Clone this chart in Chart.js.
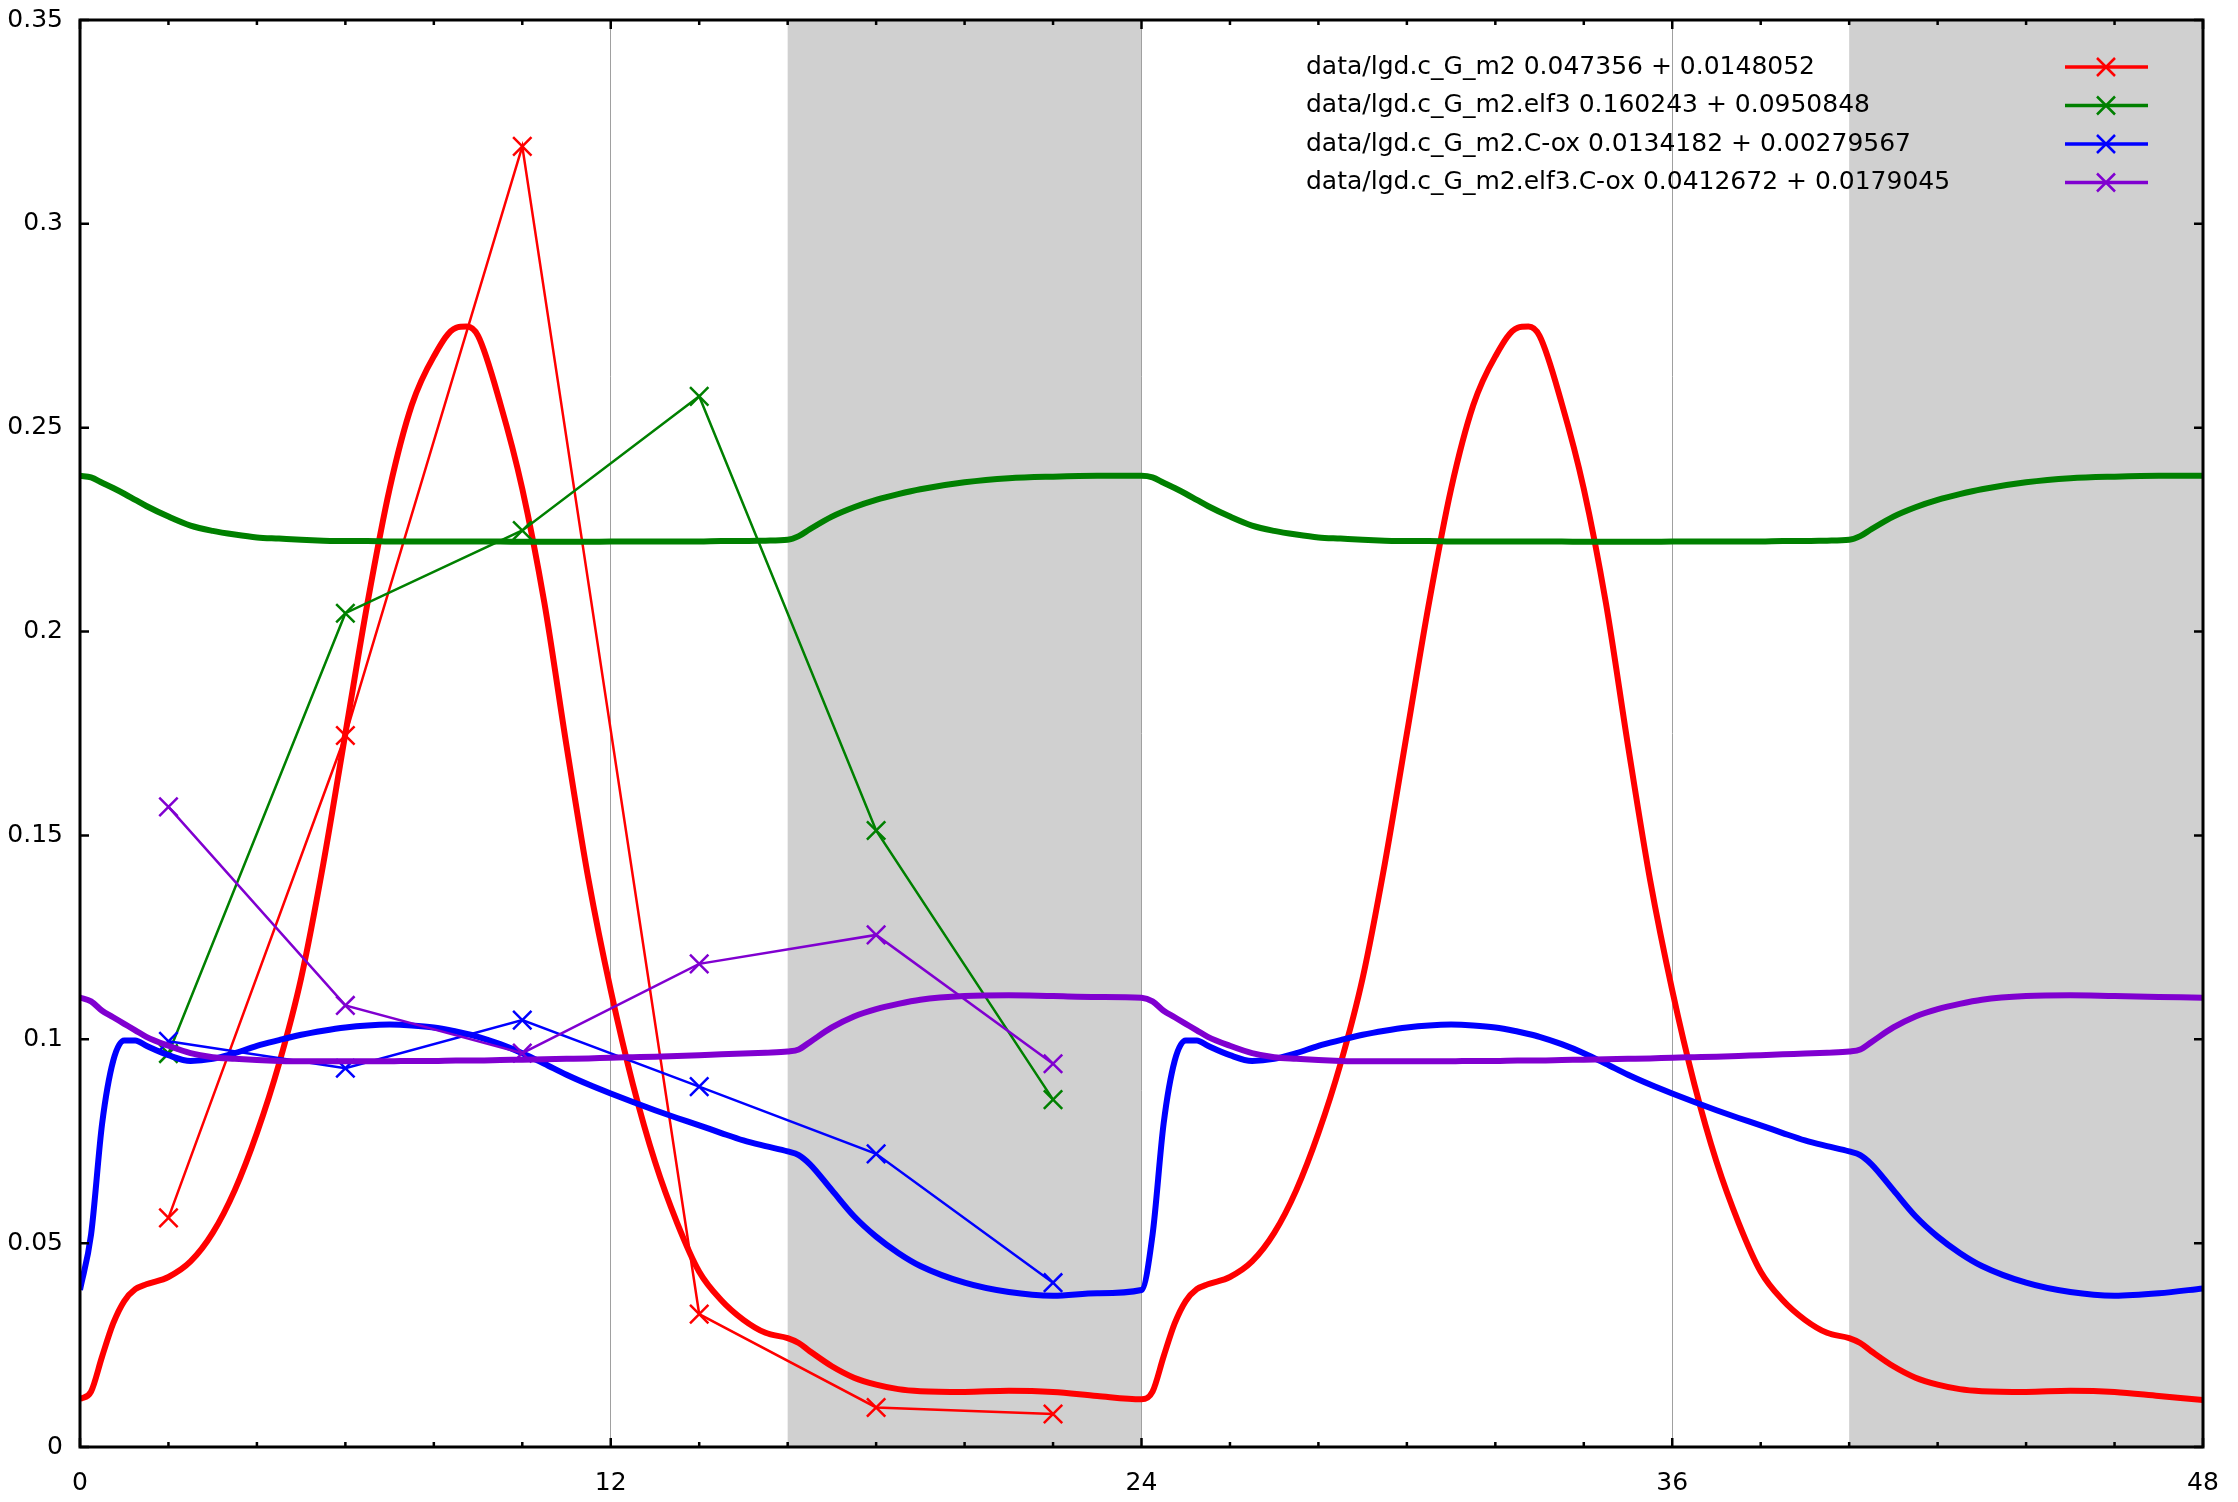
<!DOCTYPE html>
<html>
<head>
<meta charset="utf-8">
<title>lgd.c_G_m2</title>
<script src="https://cdn.jsdelivr.net/npm/chart.js@4/dist/chart.umd.min.js"></script>
<style>
  html, body { margin: 0; padding: 0; background: #fff; }
  canvas { display: block; }
</style>
</head>
<body>
<canvas id="plot" width="2238" height="1502"></canvas>
<script>
// sampled hours for the model curves (two days)
const modelHours = [
  0, 0.25, 0.5, 0.75, 1, 1.25, 1.5, 2, 2.5, 3, 3.5, 4, 4.5, 5, 5.5, 6, 6.5, 7, 7.5, 8, 8.5, 8.75, 9, 9.5,
  10, 10.5, 11, 11.5, 12, 12.5, 13, 13.5, 14, 14.5, 15, 15.5, 16, 16.25, 16.5, 17, 17.5, 18, 18.5, 19, 20, 21, 22, 23,
  24, 24.25, 24.5, 24.75, 25, 25.25, 25.5, 26, 26.5, 27, 27.5, 28, 28.5, 29, 29.5, 30, 30.5, 31, 31.5, 32, 32.5, 32.75, 33, 33.5,
  34, 34.5, 35, 35.5, 36, 36.5, 37, 37.5, 38, 38.5, 39, 39.5, 40, 40.25, 40.5, 41, 41.5, 42, 42.5, 43, 44, 45, 46, 47,
  48
];

const redModel = [
  0.0117, 0.0136, 0.0222, 0.0303, 0.0358, 0.0387, 0.0399, 0.0417, 0.0455, 0.0525, 0.063, 0.077, 0.094, 0.115, 0.143, 0.175, 0.207, 0.235, 0.2555, 0.2675, 0.2745, 0.2748, 0.2725, 0.256,
  0.235, 0.207, 0.172, 0.139, 0.112, 0.089, 0.070, 0.055, 0.0430, 0.0360, 0.0312, 0.028, 0.0267, 0.0255, 0.0235, 0.0198, 0.017, 0.0153, 0.0142, 0.0137, 0.0135, 0.0138, 0.0135, 0.0125,
  0.0117, 0.0136, 0.0222, 0.0303, 0.0358, 0.0387, 0.0399, 0.0417, 0.0455, 0.0525, 0.063, 0.077, 0.094, 0.115, 0.143, 0.175, 0.207, 0.235, 0.2555, 0.2675, 0.2745, 0.2748, 0.2725, 0.256,
  0.235, 0.207, 0.172, 0.139, 0.112, 0.089, 0.070, 0.055, 0.0430, 0.0360, 0.0312, 0.028, 0.0267, 0.0255, 0.0235, 0.0198, 0.017, 0.0153, 0.0142, 0.0137, 0.0135, 0.0138, 0.0135, 0.0125,
  0.0115
];

const greenModel = [
  0.2382, 0.2378, 0.2365, 0.2352, 0.2338, 0.2323, 0.2308, 0.2282, 0.226, 0.2247, 0.2238, 0.2231, 0.2228, 0.2225, 0.2223, 0.2222, 0.2222, 0.2221, 0.2221, 0.2221, 0.2221, 0.2221, 0.2221, 0.2221,
  0.222, 0.222, 0.222, 0.222, 0.2221, 0.2221, 0.2221, 0.2221, 0.2221, 0.2222, 0.2222, 0.2223, 0.2225, 0.2234, 0.2251, 0.2282, 0.2305, 0.2323, 0.2337, 0.2349, 0.2366, 0.2376, 0.238, 0.2382,
  0.2382, 0.2378, 0.2365, 0.2352, 0.2338, 0.2323, 0.2308, 0.2282, 0.226, 0.2247, 0.2238, 0.2231, 0.2228, 0.2225, 0.2223, 0.2222, 0.2222, 0.2221, 0.2221, 0.2221, 0.2221, 0.2221, 0.2221, 0.2221,
  0.222, 0.222, 0.222, 0.222, 0.2221, 0.2221, 0.2221, 0.2221, 0.2221, 0.2222, 0.2222, 0.2223, 0.2225, 0.2234, 0.2251, 0.2282, 0.2305, 0.2323, 0.2337, 0.2349, 0.2366, 0.2376, 0.238, 0.2382,
  0.2382
];

const blueModel = [
  0.0385, 0.0521, 0.0793, 0.0947, 0.0997, 0.0997, 0.0984, 0.0961, 0.0947, 0.0952, 0.0966, 0.0984, 0.0998, 0.1011, 0.1021, 0.1029, 0.1034, 0.1036, 0.1034, 0.1029, 0.1019, 0.1013, 0.1006, 0.0988,
  0.0966, 0.094, 0.0913, 0.0889, 0.0867, 0.0846, 0.0826, 0.0807, 0.0789, 0.0770, 0.0752, 0.0738, 0.0725, 0.0716, 0.0694, 0.063, 0.0566, 0.0516, 0.0476, 0.0444, 0.0403, 0.038, 0.0371, 0.0377,
  0.0385, 0.0521, 0.0793, 0.0947, 0.0997, 0.0997, 0.0984, 0.0961, 0.0947, 0.0952, 0.0966, 0.0984, 0.0998, 0.1011, 0.1021, 0.1029, 0.1034, 0.1036, 0.1034, 0.1029, 0.1019, 0.1013, 0.1006, 0.0988,
  0.0966, 0.094, 0.0913, 0.0889, 0.0867, 0.0846, 0.0826, 0.0807, 0.0789, 0.0770, 0.0752, 0.0738, 0.0725, 0.0716, 0.0694, 0.063, 0.0566, 0.0516, 0.0476, 0.0444, 0.0403, 0.038, 0.0371, 0.0377,
  0.0389
];

const purpleModel = [
  0.1102, 0.1093, 0.107, 0.1054, 0.1038, 0.1022, 0.1006, 0.0984, 0.0966, 0.0956, 0.0952, 0.0949, 0.0947, 0.0946, 0.0946, 0.0946, 0.0946, 0.0946, 0.0947, 0.0947, 0.0948, 0.0948, 0.0948, 0.0949,
  0.095, 0.0951, 0.0952, 0.0953, 0.0955, 0.0956, 0.0957, 0.0959, 0.0961, 0.0963, 0.0965, 0.0967, 0.097, 0.0975, 0.0993, 0.1029, 0.1056, 0.1074, 0.1087, 0.1097, 0.1106, 0.1108, 0.1106, 0.1104,
  0.1102, 0.1093, 0.107, 0.1054, 0.1038, 0.1022, 0.1006, 0.0984, 0.0966, 0.0956, 0.0952, 0.0949, 0.0947, 0.0946, 0.0946, 0.0946, 0.0946, 0.0946, 0.0947, 0.0947, 0.0948, 0.0948, 0.0948, 0.0949,
  0.095, 0.0951, 0.0952, 0.0953, 0.0955, 0.0956, 0.0957, 0.0959, 0.0961, 0.0963, 0.0965, 0.0967, 0.097, 0.0975, 0.0993, 0.1029, 0.1056, 0.1074, 0.1087, 0.1097, 0.1106, 0.1108, 0.1106, 0.1104,
  0.1102
];

// measured points
const sampleHours = [2, 6, 10, 14, 18, 22];
const redData    = [0.0562, 0.1745, 0.319, 0.0326, 0.0097, 0.0081];
const greenData  = [0.0965, 0.2045, 0.2248, 0.2577, 0.1512, 0.0852];
const blueData   = [0.0995, 0.0929, 0.1047, 0.0884, 0.0719, 0.0403];
const purpleData = [0.157, 0.1083, 0.0966, 0.1185, 0.1256, 0.094];

const legendLabels = [
  'data/lgd.c_G_m2 0.047356 + 0.0148052',
  'data/lgd.c_G_m2.elf3 0.160243 + 0.0950848',
  'data/lgd.c_G_m2.C-ox 0.0134182 + 0.00279567',
  'data/lgd.c_G_m2.elf3.C-ox 0.0412672 + 0.0179045'
];
const xTickLabels = ['0', '12', '24', '36', '48'];
const yTickLabels = ['0', '0.05', '0.1', '0.15', '0.2', '0.25', '0.3', '0.35'];
const darkPeriods = [[16, 24], [40, 48]];

const colors = ['#ff0000', '#008000', '#0000ff', '#8000d0'];

Chart.defaults.font.family = 'DejaVu Sans';
Chart.defaults.font.size = 25;
Chart.defaults.color = '#000';

function pts(xs, ys) {
  return xs.map((x, i) => ({ x: x, y: ys[i] }));
}

function modelSet(values, color, order) {
  return {
    data: pts(modelHours, values),
    borderColor: color,
    borderWidth: 6,
    pointRadius: 0,
    cubicInterpolationMode: 'monotone',
    fill: false,
    order: order
  };
}

function dataSet(values, color, order) {
  return {
    data: pts(sampleHours, values),
    borderColor: color,
    backgroundColor: color,
    borderWidth: 2.5,
    pointStyle: 'crossRot',
    pointRadius: 13,
    pointBorderWidth: 2.5,
    pointBorderColor: color,
    fill: false,
    order: order
  };
}

// keep the plot frame where the layout padding puts it
function noLabelPadding(scale) {
  scale.paddingLeft = 0;
  scale.paddingRight = 0;
  scale.paddingTop = 0;
  scale.paddingBottom = 0;
}

// grey night shading behind everything
const shadePlugin = {
  id: 'shade',
  beforeDraw(chart) {
    const ctx = chart.ctx, area = chart.chartArea, xs = chart.scales.x;
    ctx.save();
    ctx.fillStyle = '#d0d0d0';
    darkPeriods.forEach(p => {
      const x0 = xs.getPixelForValue(p[0]);
      const x1 = xs.getPixelForValue(p[1]);
      ctx.fillRect(x0, area.top, x1 - x0, area.bottom - area.top);
    });
    ctx.restore();
  }
};

// gnuplot style frame, inward ticks and key
const framePlugin = {
  id: 'frame',
  afterDatasetsDraw(chart) {
    const ctx = chart.ctx, a = chart.chartArea;
    const xs = chart.scales.x, ys = chart.scales.y;
    ctx.save();
    ctx.strokeStyle = '#000';
    ctx.lineWidth = 2.5;
    ctx.beginPath();
    for (let h = xs.min; h <= xs.max; h += 2) {
      const px = xs.getPixelForValue(h);
      const len = (h % 12 === 0) ? 9 : 5;
      ctx.moveTo(px, a.bottom); ctx.lineTo(px, a.bottom - len);
      ctx.moveTo(px, a.top); ctx.lineTo(px, a.top + len);
    }
    ys.ticks.forEach(t => {
      const py = ys.getPixelForValue(t.value);
      ctx.moveTo(a.left, py); ctx.lineTo(a.left + 9, py);
      ctx.moveTo(a.right, py); ctx.lineTo(a.right - 9, py);
    });
    ctx.stroke();
    ctx.lineWidth = 3;
    ctx.strokeRect(a.left, a.top, a.right - a.left, a.bottom - a.top);

    // key
    ctx.font = '25px "DejaVu Sans"';
    ctx.textBaseline = 'middle';
    ctx.textAlign = 'left';
    legendLabels.forEach((label, i) => {
      const y = a.top + 47 + i * 38.5;
      ctx.fillStyle = '#000';
      ctx.fillText(label, 1306, y);
      ctx.strokeStyle = colors[i];
      ctx.lineWidth = 3.5;
      ctx.beginPath();
      ctx.moveTo(2065, y); ctx.lineTo(2148, y);
      ctx.stroke();
      ctx.lineWidth = 2.5;
      ctx.beginPath();
      ctx.moveTo(2097, y - 9); ctx.lineTo(2115, y + 9);
      ctx.moveTo(2097, y + 9); ctx.lineTo(2115, y - 9);
      ctx.stroke();
    });
    ctx.restore();
  }
};

const ctx = document.getElementById('plot').getContext('2d');
new Chart(ctx, {
  type: 'line',
  data: {
    datasets: [
      dataSet(redData, colors[0], 7),
      modelSet(redModel, colors[0], 6),
      dataSet(greenData, colors[1], 5),
      modelSet(greenModel, colors[1], 4),
      dataSet(blueData, colors[2], 3),
      modelSet(blueModel, colors[2], 2),
      dataSet(purpleData, colors[3], 1),
      modelSet(purpleModel, colors[3], 0)
    ]
  },
  options: {
    responsive: false,
    animation: false,
    layout: { padding: { top: 20, right: 35, left: 0, bottom: 0 } },
    plugins: {
      legend: { display: false },
      tooltip: { enabled: false }
    },
    scales: {
      x: {
        type: 'linear',
        min: 0,
        max: 48,
        afterFit(scale) { scale.height = 55; noLabelPadding(scale); },
        ticks: {
          stepSize: 12,
          padding: 21,
          maxRotation: 0,
          callback: (v, i) => xTickLabels[i]
        },
        grid: {
          drawTicks: false,
          lineWidth: 1,
          color: '#a0a0a0'
        },
        border: { display: false }
      },
      y: {
        min: 0,
        max: 0.35,
        afterFit(scale) { scale.width = 80; noLabelPadding(scale); },
        ticks: {
          stepSize: 0.05,
          padding: 17,
          callback: (v, i) => yTickLabels[i]
        },
        grid: { display: false, drawTicks: false },
        border: { display: false }
      }
    }
  },
  plugins: [shadePlugin, framePlugin]
});
</script>
</body>
</html>
